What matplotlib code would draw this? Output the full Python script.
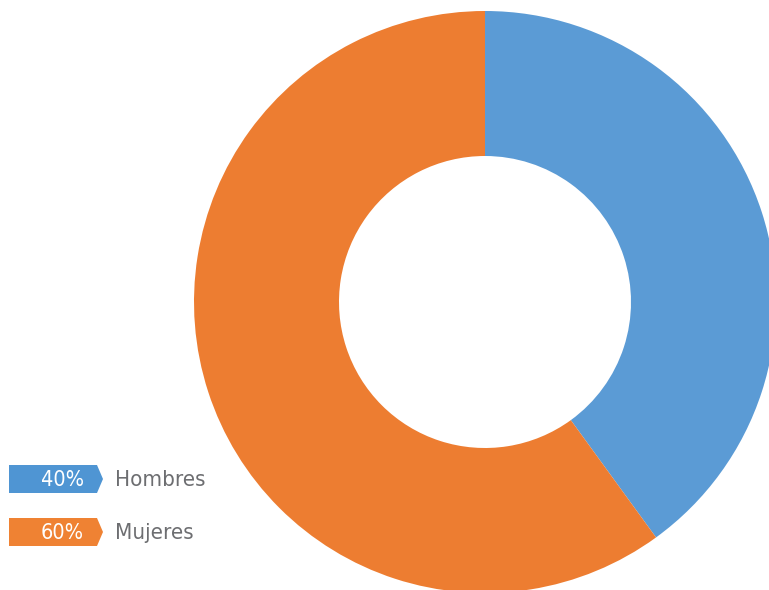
import matplotlib.pyplot as plt
from matplotlib.patches import Polygon

# datos
categorias = ['Hombres', 'Mujeres']
porcentajes = [40, 60]
colores = ['#5B9BD5', '#ED7D31']
colores_tag = ['#4F95D3', '#EF8233']

W, H = 769, 590
fig = plt.figure(figsize=(W / 100, H / 100), dpi=100)
ax = fig.add_axes([0, 0, 1, 1])

# anillo
ax.pie(porcentajes, colors=colores, startangle=90, counterclock=False,
       center=(485, H - 302), radius=291, frame=True,
       wedgeprops=dict(width=145, edgecolor='none'))
ax.set_xlim(0, W)
ax.set_ylim(0, H)
ax.set_aspect('equal')
ax.axis('off')

# leyenda con etiquetas en forma de flecha
fuente = ['DejaVu Sans']
for i, (cat, pct) in enumerate(zip(categorias, porcentajes)):
    yc = H - (479 + i * 53)
    h = 14
    tag = Polygon([(9, yc - h), (97, yc - h), (103, yc), (97, yc + h), (9, yc + h)],
                  closed=True, facecolor=colores_tag[i], edgecolor='none')
    ax.add_patch(tag)
    ax.text(62, yc - 1, f'{pct}%', color='white', fontsize=15.5, family=fuente,
            stretch='condensed', ha='center', va='center')
    ax.text(115, yc - 1, cat, color='#6D6E71', fontsize=16, family=fuente,
            stretch='condensed', ha='left', va='center')

plt.savefig('out.png', dpi=100)
plt.close()
